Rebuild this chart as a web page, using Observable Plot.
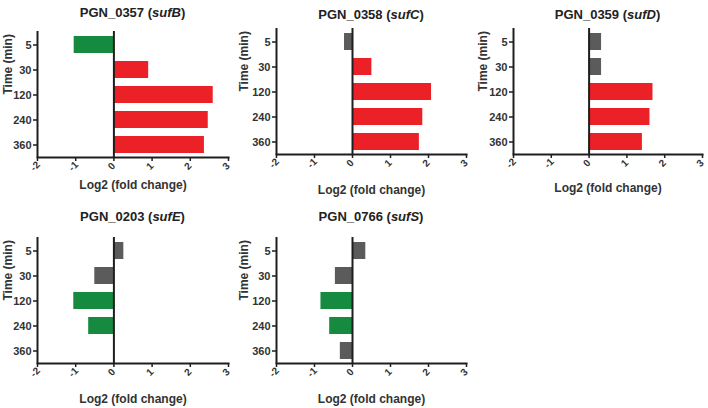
<!DOCTYPE html>
<html><head><meta charset="utf-8">
<script src="https://cdn.jsdelivr.net/npm/d3@7"></script>
<script src="https://cdn.jsdelivr.net/npm/@observablehq/plot@0.6"></script>
<style>
body{margin:0;background:#fff;}
#wrap{position:relative;width:708px;height:408px;overflow:hidden;font-family:"Liberation Sans",Arial,sans-serif;}
.title{position:absolute;font-weight:bold;font-size:13px;color:#222;transform:translateX(-50%);white-space:nowrap;line-height:16px;}
.panel{position:absolute;}
</style></head><body><div id="wrap"></div>
<script>
// ---- data ----
const times = ["5", "30", "120", "240", "360"];
const xTicks = [-2, -1, 0, 1, 2, 3];
const geneIds = ["PGN_0357", "PGN_0358", "PGN_0359", "PGN_0203", "PGN_0766"];
const geneNames = ["sufB", "sufC", "sufD", "sufE", "sufS"];
const sufB = [-1.04, 0.91, 2.60, 2.47, 2.37];
const sufC = [-0.21, 0.51, 2.08, 1.85, 1.76];
const sufD = [0.33, 0.33, 1.69, 1.61, 1.41];
const sufE = [0.26, -0.50, -1.05, -0.66, 0];
const sufS = [0.35, -0.45, -0.83, -0.60, -0.32];
const sufBStatus = ["down", "up", "up", "up", "up"];
const sufCStatus = ["ns", "up", "up", "up", "up"];
const sufDStatus = ["ns", "ns", "up", "up", "up"];
const sufEStatus = ["ns", "ns", "down", "down", "ns"];
const sufSStatus = ["ns", "ns", "down", "down", "ns"];
const xLabel = "Log2 (fold change)";
const yLabel = "Time (min)";

const values = [sufB, sufC, sufD, sufE, sufS];
const statuses = [sufBStatus, sufCStatus, sufDStatus, sufEStatus, sufSStatus];

// ---- layout (page pixel positions of each panel's axes) ----
const layout = [
  {left: 37, right: 228, top: 31, bottom: 157, titleTop: 5, xLabDy: 31, yLabX: 8},
  {left: 276, right: 466, top: 28, bottom: 154, titleTop: 7, xLabDy: 39, yLabX: 244},
  {left: 513, right: 702, top: 28, bottom: 154, titleTop: 7, xLabDy: 37, yLabX: 483},
  {left: 37, right: 228, top: 237, bottom: 363, titleTop: 209, xLabDy: 39, yLabX: 8},
  {left: 276, right: 466, top: 237, bottom: 363, titleTop: 209, xLabDy: 39, yLabX: 244}
];

const wrap = document.getElementById("wrap");
const mL = 37, mR = 5, mT = 4, mB = 44;
const ink = "#1e1e1e";

geneIds.forEach((id, i) => {
  const L = layout[i];
  const rows = times.map((t, j) => ({time: t, value: values[i][j], status: statuses[i][j]}));
  const width = L.right - L.left + mL + mR;
  const height = L.bottom - L.top + mT + mB;
  const plot = Plot.plot({
    width, height,
    marginLeft: mL, marginRight: mR, marginTop: mT, marginBottom: mB,
    style: {fontFamily: "'Liberation Sans', Arial, sans-serif", color: ink, background: "transparent", overflow: "visible"},
    x: {domain: [-2, 3], axis: null},
    y: {domain: times, paddingInner: 0.33, paddingOuter: 0.15, axis: null},
    color: {domain: ["up", "down", "ns"], range: ["#ec2027", "#168a3f", "#5b5b5b"]},
    marks: [
      Plot.barX(rows, {x: "value", y: "time", fill: "status"}),
      Plot.ruleX([-2, 0], {stroke: ink, strokeWidth: 2}),
      Plot.frame({anchor: "bottom", stroke: ink, strokeWidth: 2}),
      Plot.axisX({ticks: xTicks, tickSize: 4, strokeWidth: 1.5, tickFormat: () => "", label: null}),
      Plot.text(xTicks, {x: d => d, text: d => String(d), frameAnchor: "bottom", dy: 11, rotate: -45, fontSize: 10, fontWeight: "bold", fill: "#333"}),
      Plot.axisY({tickSize: 4, tickPadding: 2, strokeWidth: 1.5, fontSize: 11, fontWeight: "bold", label: null, fill: "#333"}),
      Plot.text([xLabel], {frameAnchor: "bottom", dy: L.xLabDy, fontSize: 12, fontWeight: "bold", fill: "#333"}),
      Plot.text([yLabel], {frameAnchor: "left", dx: L.yLabX - L.left, rotate: -90, fontSize: 12, fontWeight: "bold", fill: "#333"})
    ]
  });
  plot.classList.add("panel");
  plot.style.left = (L.left - mL) + "px";
  plot.style.top = (L.top - mT) + "px";
  wrap.appendChild(plot);

  const t = document.createElement("div");
  t.className = "title";
  t.style.left = ((L.left + L.right) / 2) + "px";
  t.style.top = L.titleTop + "px";
  t.innerHTML = id + " (<i>" + geneNames[i] + "</i>)";
  wrap.appendChild(t);
});
</script>
</body></html>
